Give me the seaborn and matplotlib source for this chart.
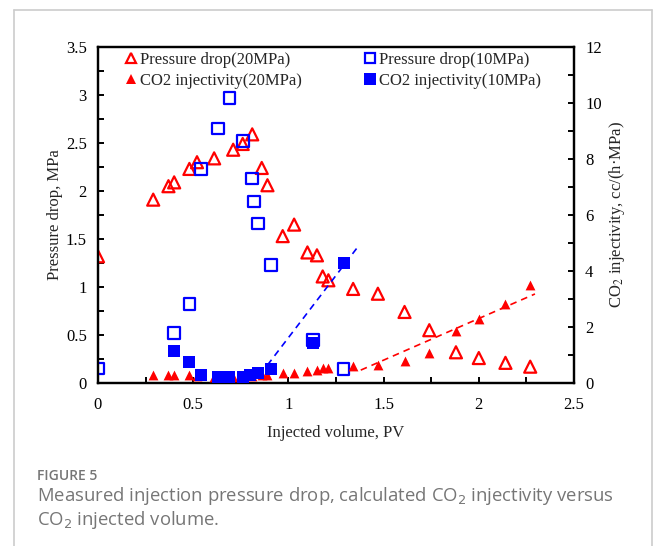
import numpy as np
import matplotlib
matplotlib.use("Agg")
import matplotlib.pyplot as plt
from matplotlib.lines import Line2D
from matplotlib.ticker import MultipleLocator
import seaborn as sns

# ---- data ----
p20_x = [0.00, 0.29, 0.37, 0.40, 0.48, 0.52, 0.61, 0.71, 0.76, 0.81, 0.86, 0.89, 0.97,
         1.03, 1.10, 1.15, 1.18, 1.21, 1.34, 1.47, 1.61, 1.74, 1.88, 2.00, 2.14, 2.27]
p20_y = [1.32, 1.91, 2.05, 2.09, 2.23, 2.30, 2.34, 2.43, 2.49, 2.59, 2.24, 2.06, 1.53,
         1.65, 1.36, 1.33, 1.11, 1.07, 0.98, 0.93, 0.74, 0.55, 0.32, 0.26, 0.21, 0.17]

inj20_x = [0.29, 0.37, 0.40, 0.48, 0.52, 0.61, 0.71, 0.76, 0.81, 0.86, 0.89, 0.97,
           1.03, 1.10, 1.15, 1.18, 1.21, 1.34, 1.47, 1.61, 1.74, 1.88, 2.00, 2.14, 2.27]
inj20_y = [0.30, 0.30, 0.30, 0.27, 0.25, 0.22, 0.20, 0.22, 0.25, 0.28, 0.30, 0.36,
           0.35, 0.42, 0.45, 0.52, 0.54, 0.60, 0.63, 0.80, 1.06, 1.86, 2.29, 2.82, 3.50]

p10_x = [0.00, 0.40, 0.48, 0.54, 0.63, 0.69, 0.76, 0.81, 0.82, 0.84, 0.91, 1.13, 1.29]
p10_y = [0.15, 0.52, 0.82, 2.23, 2.65, 2.97, 2.52, 2.13, 1.89, 1.66, 1.23, 0.45, 0.145]

inj10_x = [0.40, 0.48, 0.54, 0.63, 0.69, 0.76, 0.80, 0.84, 0.91, 1.13, 1.29]
inj10_y = [1.14, 0.75, 0.27, 0.22, 0.20, 0.22, 0.28, 0.35, 0.50, 1.43, 4.29]

# dashed trend lines (end points)
trend10_x = [0.89, 1.36]
trend10_y = [0.64, 4.82]
trend20_x = [1.38, 2.295]
trend20_y = [0.46, 3.18]

RED = "#ff0000"
BLUE = "#0000ff"

sns.set_style("ticks")
plt.rcParams["font.family"] = ["Liberation Serif", "DejaVu Serif"]
plt.rcParams["mathtext.fontset"] = "stix"

fig = plt.figure(figsize=(6.56, 5.46), dpi=100)
ax = fig.add_axes([98 / 656, 1 - 383 / 546, (574 - 98) / 656, (383 - 47) / 546])
ax2 = ax.twinx()

# pressure drop (left axis)
sns.scatterplot(x=p20_x, y=p20_y, ax=ax, marker="^", s=75, facecolor="none",
                edgecolor=RED, linewidth=1.6, zorder=3)
sns.scatterplot(x=p10_x, y=p10_y, ax=ax, marker="s", s=70, facecolor="none",
                edgecolor=BLUE, linewidth=1.6, zorder=3)

# injectivity (right axis)
sns.scatterplot(x=inj20_x, y=inj20_y, ax=ax2, marker="^", s=50, color=RED,
                edgecolor=RED, linewidth=0, zorder=3)
sns.scatterplot(x=inj10_x, y=inj10_y, ax=ax2, marker="s", s=80, color=BLUE,
                edgecolor=BLUE, linewidth=0, zorder=3)
sns.lineplot(x=trend10_x, y=trend10_y, ax=ax2, color=BLUE, linewidth=1.2,
             dashes=(4, 3), zorder=2)
sns.lineplot(x=trend20_x, y=trend20_y, ax=ax2, color=RED, linewidth=1.2,
             dashes=(4, 3), zorder=2)

ax.set_xlim(0, 2.5)
ax.set_ylim(0, 3.5)
ax2.set_ylim(0, 12)

ax.xaxis.set_minor_locator(MultipleLocator(0.25))
ax.yaxis.set_minor_locator(MultipleLocator(0.25))
ax2.yaxis.set_major_locator(MultipleLocator(2))
ax2.yaxis.set_minor_locator(MultipleLocator(1))

ax.set_xticks(np.arange(0, 2.51, 0.5))
ax.set_xticklabels(["0", "0.5", "1", "1.5", "2", "2.5"])
ax.set_yticks(np.arange(0, 3.51, 0.5))
ax.set_yticklabels(["0", "0.5", "1", "1.5", "2", "2.5", "3", "3.5"])

for a in (ax, ax2):
    for sp in a.spines.values():
        sp.set_visible(True)
        sp.set_linewidth(1.6)
        sp.set_color("black")
    a.tick_params(which="both", direction="in", width=1.4, labelsize=12,
                  colors="black", pad=8, length=4.5)
ax.tick_params(axis="x", pad=10)
ax.tick_params(axis="y", which="both", right=False)
ax2.tick_params(axis="y", which="both", left=False, right=True)

ax.set_xlabel("Injected volume, PV", fontsize=12, labelpad=9)
ax.set_ylabel("Pressure drop, MPa", fontsize=12, labelpad=2)
ax2.set_ylabel("CO$_2$ injectivity, cc/(h\u00b7MPa)", fontsize=12, labelpad=4)

handles = [
    Line2D([], [], ls="none", marker="^", ms=7.5, mfc="none", mec=RED, mew=1.6),
    Line2D([], [], ls="none", marker="^", ms=6.5, mfc=RED, mec=RED, mew=0),
    Line2D([], [], ls="none", marker="s", ms=7.5, mfc="none", mec=BLUE, mew=1.6),
    Line2D([], [], ls="none", marker="s", ms=8, mfc=BLUE, mec=BLUE, mew=0),
]
labels = ["Pressure drop(20MPa)", "CO2 injectivity(20MPa)",
          "Pressure drop(10MPa)", "CO2 injectivity(10MPa)"]
ax2.legend(handles, labels, ncol=2, frameon=False, fontsize=12,
           loc="upper left", bbox_to_anchor=(0.045, 1.005),
           handlelength=0.6, handletextpad=0.25, columnspacing=3.75,
           labelspacing=0.3, borderaxespad=0)

# card frame
frame_c = "#cccccc"
fig.add_artist(Line2D([14 / 656, 14 / 656], [0, 1 - 10 / 546], color=frame_c,
                      lw=1.2, transform=fig.transFigure))
fig.add_artist(Line2D([14 / 656, 652 / 656], [1 - 10 / 546, 1 - 10 / 546],
                      color=frame_c, lw=1.2, transform=fig.transFigure))
fig.add_artist(Line2D([652 / 656, 652 / 656], [0, 1 - 10 / 546], color=frame_c,
                      lw=1.2, transform=fig.transFigure))

# caption
cap_font = ["Open Sans", "DejaVu Sans"]
cap_c = "#767676"
fig.text(37 / 656, 1 - 476 / 546, "FIGURE 5", fontsize=10, color=cap_c,
         family=cap_font, weight="semibold", va="center", ha="left")
fig.text(37 / 656, 1 - 496 / 546,
         "Measured injection pressure drop, calculated CO$_2$ injectivity versus",
         fontsize=13.3, color=cap_c, family=cap_font, va="center", ha="left",
         math_fontfamily="dejavusans")
fig.text(37 / 656, 1 - 520 / 546, "CO$_2$ injected volume.",
         fontsize=13.3, color=cap_c, family=cap_font, va="center", ha="left",
         math_fontfamily="dejavusans")

fig.savefig("out.png", dpi=100)
